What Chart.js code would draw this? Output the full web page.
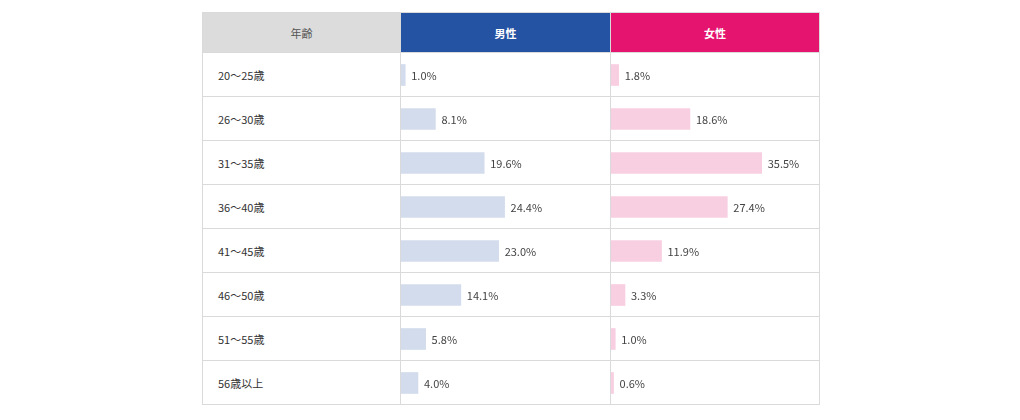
<!DOCTYPE html>
<html>
<head>
<meta charset="utf-8">
<script src="https://cdn.jsdelivr.net/npm/chart.js@4"></script>
<style>
  body { margin:0; background:#fff; font-family:"Noto Sans CJK JP","Noto Sans",sans-serif; }
  #wrap { position:absolute; left:202px; top:12px; width:618px; }
  table { border-collapse:collapse; width:618px; table-layout:fixed; }
  td, th { border:1px solid #dadada; padding:0; font-size:11px; }
  th { height:39px; font-weight:normal; }
  td { height:43px; color:#333; }
  .h0 { background:#dcdcdc; color:#555; width:197px; }
  .h1 { background:#2553a4; color:#fff; font-weight:bold; width:209px; }
  .h2 { background:#e5146e; color:#fff; font-weight:bold; }
  td.lab { padding-left:15px; }
  .cv { position:absolute; top:41px; height:352px; }
</style>
</head>
<body>
<div id="wrap">
  <table id="tbl"></table>
  <div class="cv" style="left:199px;width:208px"><canvas id="male"></canvas></div>
  <div class="cv" style="left:409px;width:208px"><canvas id="female"></canvas></div>
</div>
<script>
const headers = ['年齢', '男性', '女性'];
const ages = ['20～25歳', '26～30歳', '31～35歳', '36～40歳', '41～45歳', '46～50歳', '51～55歳', '56歳以上'];
const maleValues = [1.0, 8.1, 19.6, 24.4, 23.0, 14.1, 5.8, 4.0];
const femaleValues = [1.8, 18.6, 35.5, 27.4, 11.9, 3.3, 1.0, 0.6];

let html = '<tr><th class="h0">' + headers[0] + '</th><th class="h1">' + headers[1] + '</th><th class="h2">' + headers[2] + '</th></tr>';
ages.forEach(function(a){
  html += '<tr><td class="lab">' + a + '</td><td></td><td></td></tr>';
});
document.getElementById('tbl').innerHTML = html;

const valueLabels = {
  id: 'valueLabels',
  afterDatasetsDraw(chart) {
    const ctx = chart.ctx;
    const meta = chart.getDatasetMeta(0);
    ctx.save();
    ctx.font = '11px "Noto Sans CJK JP", "Noto Sans", sans-serif';
    ctx.fillStyle = '#444';
    ctx.textBaseline = 'middle';
    meta.data.forEach(function(bar, i){
      ctx.fillText(chart.data.datasets[0].data[i].toFixed(1) + '%', bar.x + 6, bar.y + 1);
    });
    ctx.restore();
  }
};

function makeChart(id, values, color) {
  return new Chart(document.getElementById(id), {
    type: 'bar',
    data: {
      labels: ages,
      datasets: [{ data: values, backgroundColor: color, barThickness: 21, borderWidth: 0 }]
    },
    options: {
      indexAxis: 'y',
      responsive: true,
      maintainAspectRatio: false,
      animation: false,
      layout: { padding: 0 },
      plugins: { legend: { display: false }, tooltip: { enabled: false } },
      scales: {
        x: { display: false, min: 0, max: 49 },
        y: { display: false }
      }
    },
    plugins: [valueLabels]
  });
}

makeChart('male', maleValues, '#d3dcec');
makeChart('female', femaleValues, '#f8cfe1');
</script>
</body>
</html>
